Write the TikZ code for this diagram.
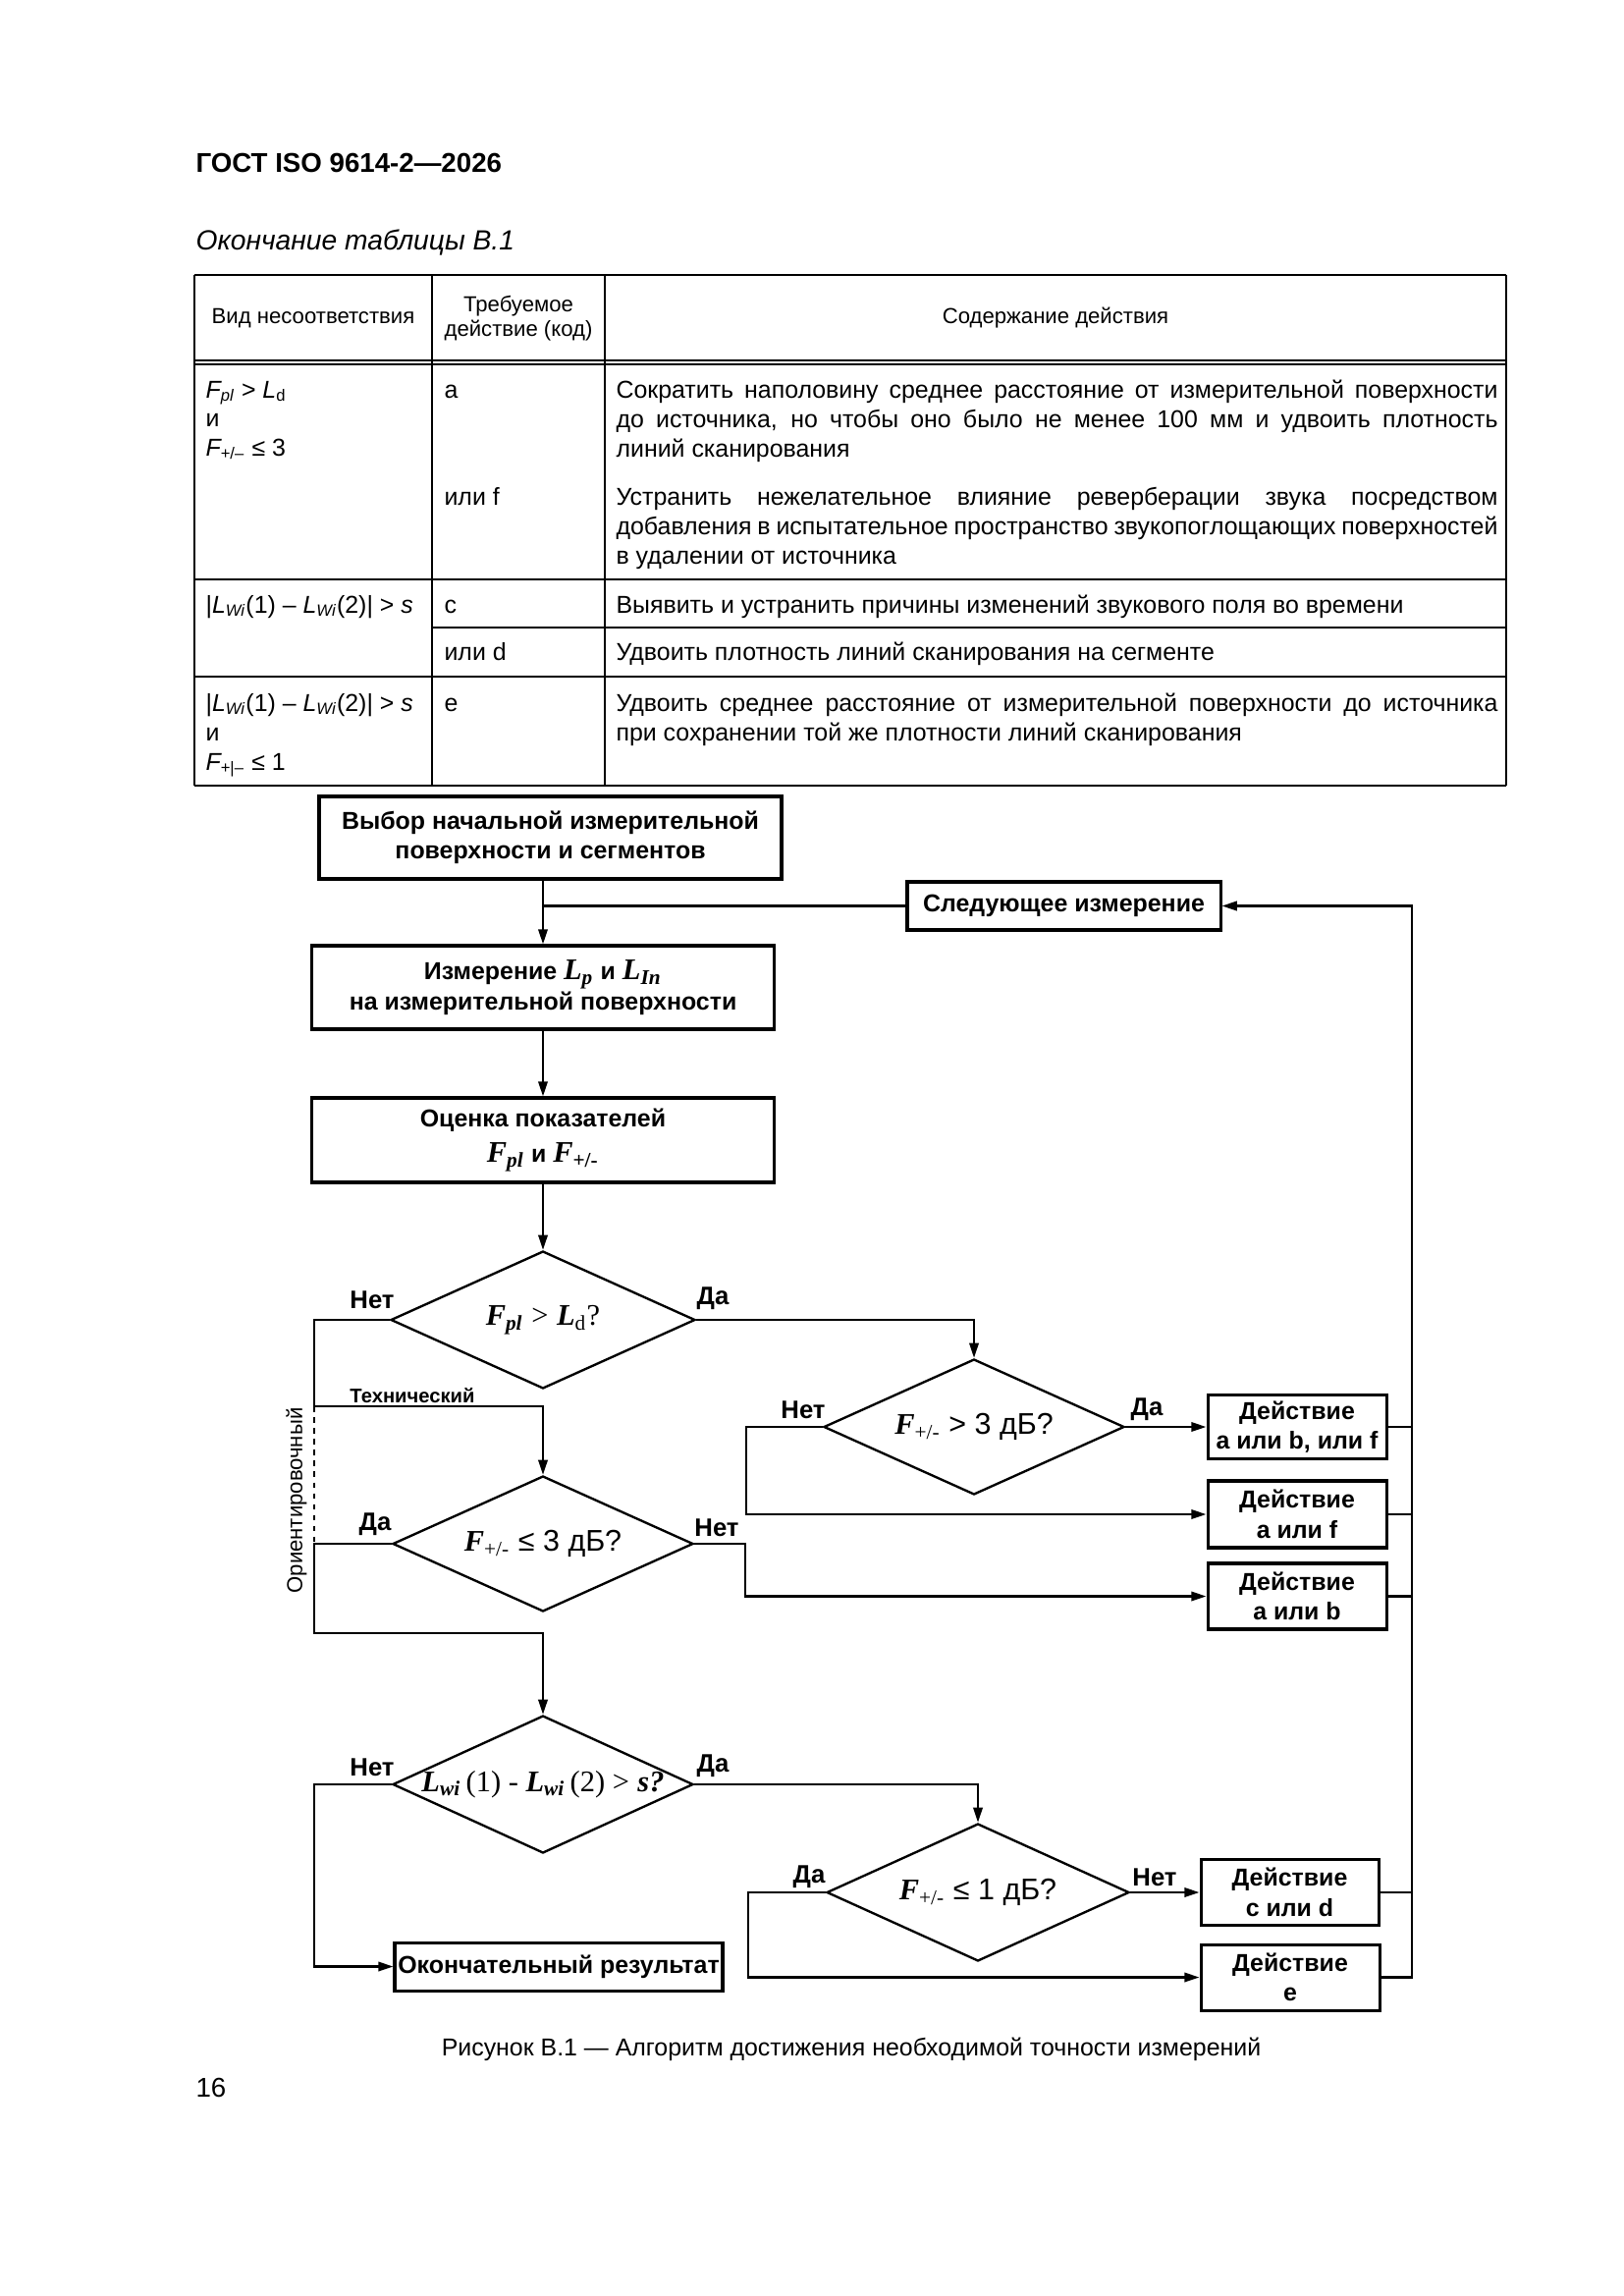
\documentclass[tikz,border=0pt]{standalone}
\usepackage{fontspec}
\setmainfont{Liberation Sans}
\newfontfamily\tms{Liberation Serif}
\usetikzlibrary{arrows.meta,shapes.geometric}
\newdimen\pxu \pxu=0.127mm
\newcommand\bi[1]{{\tms\bfseries\itshape #1}}
\newcommand\bb[1]{{\fontsize{11}{11}\selectfont\tms\bfseries\itshape #1}}
\newcommand\just[1]{\makebox[898\pxu][s]{#1}}
\begin{document}
\begin{tikzpicture}[x=0.127mm,y=-0.127mm,
  tl/.style={line width=0.6pt},
  ln/.style={line width=0.85pt},
  arr/.style={line width=0.85pt,-{Triangle[length=5.5pt,width=3.4pt]}},
  box/.style={draw,line width=1.1pt,align=center,inner sep=0pt,
     font=\bfseries\fontsize{9}{11}\selectfont},
  dia/.style={draw,diamond,line width=0.85pt,inner sep=0pt},
  dtx/.style={inner sep=0pt,font=\fontsize{11}{12}\selectfont},
  lbl/.style={font=\bfseries\fontsize{9.3}{11}\selectfont,inner sep=0pt},
  tx/.style={font=\fontsize{9}{11}\selectfont,inner sep=0pt,anchor=mid west},
  th/.style={font=\fontsize{8}{9}\selectfont,inner sep=0pt,align=center}]
\fill[white] (0,0) rectangle (1653,2338);
\useasboundingbox (0,0) rectangle (1653,2338);

% page header
\node[font=\bfseries\fontsize{10}{12}\selectfont,anchor=mid west,inner sep=0pt] (hdr) at (199,168) {ГОСТ ISO 9614-2—2026};
\node[font=\itshape\fontsize{10.2}{12}\selectfont,anchor=mid west,inner sep=0pt] (tcap) at (199,247) {Окончание таблицы B.1};

% table grid
\draw[tl] (198,280) -- (1534,280);
\draw[tl] (198,367) -- (1534,367);
\draw[tl] (198,371) -- (1534,371);
\draw[tl] (198,590) -- (1534,590);
\draw[tl] (440,639) -- (1534,639);
\draw[tl] (198,689) -- (1534,689);
\draw[tl] (198,800) -- (1534,800);
\foreach \xx in {198,440,616,1534} \draw[tl] (\xx,280) -- (\xx,800);

% table header
\node[th] (h1) at (319,324) {Вид несоответствия};
\node[th] (h2) at (528,324) {Требуемое\\действие (код)};
\node[th] (h3) at (1075,324) {Содержание действия};

% row 1
\node[tx] (r1a) at (209,398) {{\itshape F}\textsubscript{\itshape pl} > {\itshape L}\textsubscript{d}};
\node[tx] (r1b) at (209,427) {и};
\node[tx] (r1c) at (209,457) {{\itshape F}\textsubscript{+/–} ≤ 3};
\node[tx] (r1d) at (452,398) {a};
\node[tx] (r1e) at (452,507) {или f};
\node[tx] (r1f) at (627,398) {\just{Сократить наполовину среднее расстояние от измерительной поверхности}};
\node[tx] (r1g) at (627,428) {\just{до источника, но чтобы оно было не менее 100 мм и удвоить плотность}};
\node[tx] (r1h) at (627,458) {линий сканирования};
\node[tx] (r1i) at (627,507) {\just{Устранить нежелательное влияние реверберации звука посредством}};
\node[tx] (r1j) at (627,537) {\just{добавления в испытательное пространство звукопоглощающих поверхностей}};
\node[tx] (r1k) at (627,567) {в удалении от источника};
% row 2
\node[tx] (r2a) at (209,617) {|{\itshape L}\textsubscript{\itshape Wi}(1) – {\itshape L}\textsubscript{\itshape Wi}(2)| > {\itshape s}};
\node[tx] (r2b) at (452,617) {c};
\node[tx] (r2c) at (452,665) {или d};
\node[tx] (r2d) at (627,617) {Выявить и устранить причины изменений звукового поля во времени};
\node[tx] (r2e) at (627,665) {Удвоить плотность линий сканирования на сегменте};
% row 3
\node[tx] (r3a) at (209,717) {|{\itshape L}\textsubscript{\itshape Wi}(1) – {\itshape L}\textsubscript{\itshape Wi}(2)| > {\itshape s}};
\node[tx] (r3b) at (209,747) {и};
\node[tx] (r3c) at (209,777) {{\itshape F}\textsubscript{+|–} ≤ 1};
\node[tx] (r3d) at (452,717) {e};
\node[tx] (r3e) at (627,717) {\just{Удвоить среднее расстояние от измерительной поверхности до источника}};
\node[tx] (r3f) at (627,747) {при сохранении той же плотности линий сканирования};

% flowchart boxes
\node[box,minimum width=471\pxu,minimum height=84\pxu] (b1) at (560.5,853) {Выбор начальной измерительной\\поверхности и сегментов};
\node[box,minimum width=319\pxu,minimum height=49\pxu] (nx) at (1083.5,922.5) {Следующее измерение};
\node[box,minimum width=471\pxu,minimum height=85\pxu] (b2) at (553,1005.5) {Измерение \bb{L\textsubscript{p}} и \bb{L\textsubscript{In}}\\на измерительной поверхности};
\node[box,minimum width=471\pxu,minimum height=86\pxu] (b3) at (553,1161) {Оценка показателей\\[2pt]\bb{F\textsubscript{pl}} и \bb{F}{\fontsize{11}{11}\selectfont\tms\textsubscript{+/-}}};

% diamonds (shape) and their texts
\node[dia,minimum width=310\pxu,minimum height=140\pxu] (d1) at (553,1344) {};
\node[dia,minimum width=306\pxu,minimum height=138\pxu] (d4) at (992,1453) {};
\node[dia,minimum width=306\pxu,minimum height=138\pxu] (d2) at (553,1572) {};
\node[dia,minimum width=306\pxu,minimum height=140\pxu] (d3) at (553,1817) {};
\node[dia,minimum width=308\pxu,minimum height=140\pxu] (d5) at (996,1927) {};
\node[dtx] (t1) at (d1) {\bi{F\textsubscript{pl}} {\tms >} \bi{L}{\tms\textsubscript{d}?}};
\node[dtx] (t4) at (d4) {\bi{F}{\tms\textsubscript{+/-}} > 3 дБ?};
\node[dtx] (t2) at (d2) {\bi{F}{\tms\textsubscript{+/-}} ≤ 3 дБ?};
\node[dtx] (t3) at (d3) {\bi{L\textsubscript{wi}}\,{\tms(1) - }\bi{L\textsubscript{wi}}\,{\tms(2) >} \bi{s?}};
\node[dtx] (t5) at (d5) {\bi{F}{\tms\textsubscript{+/-}} ≤ 1 дБ?};

\node[box,minimum width=182\pxu,minimum height=65\pxu] (a1) at (1321,1453) {Действие\\a или b, или f};
\node[box,minimum width=182\pxu,minimum height=68\pxu] (a2) at (1321,1542) {Действие\\a или f};
\node[box,minimum width=182\pxu,minimum height=67\pxu] (a3) at (1321,1625.5) {Действие\\a или b};
\node[box,minimum width=181\pxu,minimum height=67\pxu] (a4) at (1313.5,1927) {Действие\\c или d};
\node[box,minimum width=182\pxu,minimum height=67\pxu] (a5) at (1314,2013.5) {Действие\\e};
\node[box,minimum width=334\pxu,minimum height=49\pxu] (fin) at (569,2002.5) {Окончательный результат};

% branch labels
\node[lbl] (l1n) at (379,1324) {Нет};
\node[lbl] (l1y) at (726,1322) {Да};
\node[lbl] (l4n) at (818,1436) {Нет};
\node[lbl] (l4y) at (1168,1435) {Да};
\node[lbl] (l2y) at (382,1552) {Да};
\node[lbl] (l2n) at (730,1556) {Нет};
\node[lbl] (l3n) at (379,1800) {Нет};
\node[lbl] (l3y) at (726,1798) {Да};
\node[lbl] (l5y) at (824,1911) {Да};
\node[lbl] (l5n) at (1176,1912) {Нет};
\node[font=\bfseries\fontsize{7.3}{9}\selectfont,inner sep=0pt] (tech) at (420,1421) {Технический};
\node[font=\fontsize{8}{9}\selectfont,inner sep=0pt,rotate=90] (orient) at (302,1528) {Ориентировочный};

% helper coordinates
\coordinate (jT) at (320,1432);
\coordinate (jO) at (320,1572);
\coordinate (jB) at (320,1663);
\coordinate (jF) at (320,2002.5);
\coordinate (c4) at (760,1453);
\coordinate (c2) at (759,1572);
\coordinate (c5) at (762,1927);
\coordinate (rt) at (1438,922.5);

% connectors
\draw[arr] (b1.south -| b2.north) -- (b2.north);
\draw[ln] (nx.west) -- (nx.west -| b2.north);
\draw[arr] (b2.south) -- (b3.north);
\draw[arr] (b3.south) -- (d1.north);
\draw[arr] (d1.west) -| (jT) -- (jT -| d2.north) -- (d2.north);
\draw[line width=0.7pt,dash pattern=on 2pt off 2pt] (jT) -- (jO);
\draw[arr] (d2.west) -- (jO) -- (jB) -- (jB -| d3.north) -- (d3.north);
\draw[arr] (d1.east) -| (d4.north);
\draw[arr] (d4.east) -- (a1.west);
\draw[arr] (d4.west) -- (c4) |- (a2.west);
\draw[arr] (d2.east) -- (c2) |- (a3.west);
\draw[arr] (d3.west) -| (jF) -- (fin.west);
\draw[arr] (d3.east) -| (d5.north);
\draw[arr] (d5.east) -- (a4.west);
\draw[arr] (d5.west) -- (c5) |- (a5.west);
\draw[ln] (a1.east) -- (a1.east -| rt);
\draw[ln] (a2.east) -- (a2.east -| rt);
\draw[ln] (a3.east) -- (a3.east -| rt);
\draw[ln] (a4.east) -- (a4.east -| rt);
\draw[arr] (a5.east) -| (rt) -- (nx.east);

% caption and page number
\node[font=\fontsize{9}{11}\selectfont,inner sep=0pt] (cap) at (867,2087) {Рисунок B.1 — Алгоритм достижения необходимой точности измерений};
\node[font=\fontsize{10}{12}\selectfont,anchor=mid west,inner sep=0pt] (pg) at (199,2128) {16};
\end{tikzpicture}
\end{document}
